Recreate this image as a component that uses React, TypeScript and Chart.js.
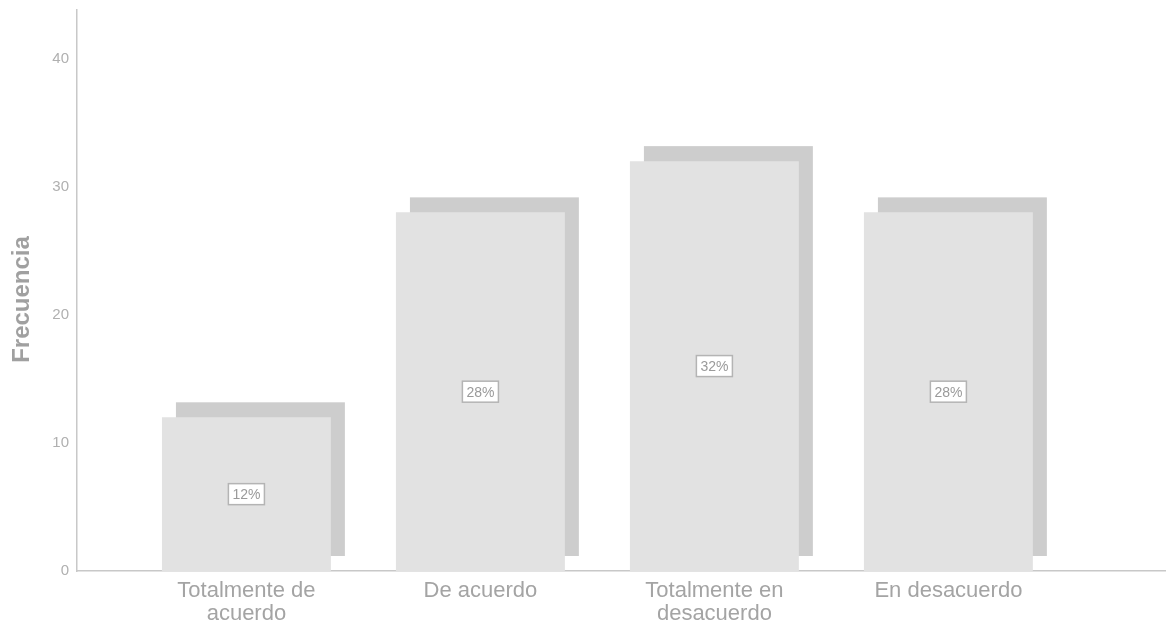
import React, { useEffect, useRef } from "react";
import { Chart, registerables } from "chart.js";

Chart.register(...registerables);

const categories: string[][] = [
  ["Totalmente de", "acuerdo"],
  ["De acuerdo"],
  ["Totalmente en", "desacuerdo"],
  ["En desacuerdo"],
];
const frequencies = [12, 28, 32, 28];
const percentLabels = ["12%", "28%", "32%", "28%"];
const yTickValues = [0, 10, 20, 30, 40];
const yTitle = "Frecuencia";

const FONT = "'Liberation Sans', Arial, sans-serif";

const shadowPlugin = {
  id: "barShadow",
  beforeDatasetsDraw(chart: any) {
    const ctx = chart.ctx;
    const meta = chart.getDatasetMeta(0);
    ctx.save();
    ctx.fillStyle = "#cdcdcd";
    meta.data.forEach((bar: any) => {
      const { x, y, base, width } = bar.getProps(["x", "y", "base", "width"], true);
      ctx.fillRect(x - width / 2 + 14, y - 15, width, base - y);
    });
    ctx.restore();
  },
};

const percentPlugin = {
  id: "percentBoxes",
  afterDatasetsDraw(chart: any) {
    const ctx = chart.ctx;
    const meta = chart.getDatasetMeta(0);
    ctx.save();
    ctx.font = `14px ${FONT}`;
    ctx.textAlign = "center";
    ctx.textBaseline = "middle";
    meta.data.forEach((bar: any, i: number) => {
      const { x, y, base } = bar.getProps(["x", "y", "base"], true);
      const cy = (y + base) / 2;
      const text = percentLabels[i];
      const w = ctx.measureText(text).width + 8;
      const h = 21;
      ctx.fillStyle = "#ffffff";
      ctx.fillRect(x - w / 2, cy - h / 2, w, h);
      ctx.strokeStyle = "#b4b4b4";
      ctx.lineWidth = 1.5;
      ctx.strokeRect(x - w / 2, cy - h / 2, w, h);
      ctx.fillStyle = "#9a9a9a";
      ctx.fillText(text, x, cy + 1);
    });
    ctx.restore();
  },
};

const titlePlugin = {
  id: "yTitle",
  afterDraw(chart: any) {
    const ctx = chart.ctx;
    const area = chart.chartArea;
    ctx.save();
    ctx.translate(22, (area.top + area.bottom) / 2 + 9);
    ctx.rotate(-Math.PI / 2);
    ctx.font = `bold 24px ${FONT}`;
    ctx.fillStyle = "#a0a0a0";
    ctx.textAlign = "center";
    ctx.textBaseline = "middle";
    ctx.fillText(yTitle, 0, 0);
    ctx.restore();
  },
};

export default function App() {
  const ref = useRef<HTMLCanvasElement | null>(null);

  useEffect(() => {
    document.body.style.margin = "0";
    const canvas = ref.current;
    if (!canvas) return;
    const chart = new Chart(canvas, {
      type: "bar",
      data: {
        datasets: [
          {
            data: frequencies.map((v, i) => ({ x: i + 1, y: v })),
            backgroundColor: "#e2e2e2",
            borderWidth: 0,
            barPercentage: 1,
            categoryPercentage: 0.722,
          },
        ],
      },
      plugins: [shadowPlugin, percentPlugin, titlePlugin],
      options: {
        animation: false,
        responsive: false,
        layout: { padding: { top: 10, left: 0, right: 0, bottom: 0 } },
        plugins: {
          legend: { display: false },
          tooltip: { enabled: false },
        },
        scales: {
          x: {
            type: "linear",
            offset: false,
            min: 0.276,
            max: 4.93,
            grid: { display: false, drawTicks: false },
            border: { color: "#c8c8c8", width: 1.5 },
            afterBuildTicks(scale: any) {
              scale.ticks = categories.map((_, i) => ({ value: i + 1 }));
            },
            afterFit(scale: any) {
              scale.height = 61;
              scale.paddingLeft = 0;
              scale.paddingRight = 0;
            },
            ticks: {
              autoSkip: false,
              maxRotation: 0,
              padding: 9,
              color: "#a4a4a4",
              font: { family: FONT, size: 22, lineHeight: 1.02 },
              callback: (v: any) => categories[Math.round(Number(v)) - 1] ?? "",
            },
          },
          y: {
            min: 0,
            max: 43.8,
            grid: { display: false, drawTicks: false },
            border: { color: "#c8c8c8", width: 1.5 },
            afterBuildTicks(scale: any) {
              scale.ticks = yTickValues.map((v) => ({ value: v }));
            },
            afterFit(scale: any) {
              scale.width = 77;
              scale.paddingTop = 0;
              scale.paddingBottom = 0;
            },
            ticks: {
              padding: 8,
              color: "#b0b0b0",
              font: { family: FONT, size: 15 },
            },
            title: { display: false },
          },
        },
      },
    });
    return () => chart.destroy();
  }, []);

  return <canvas ref={ref} width={1166} height={632} style={{ display: "block" }} />;
}
